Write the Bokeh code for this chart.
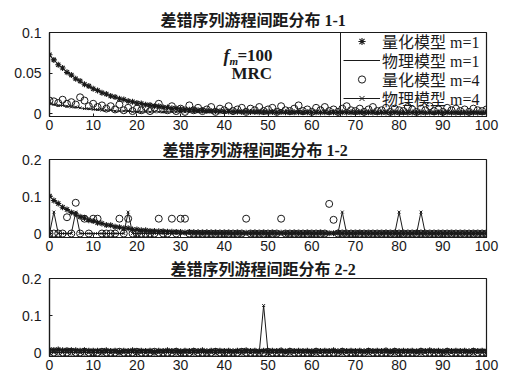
from bokeh.plotting import figure
from bokeh.layouts import column
from bokeh.models import (Legend, LegendItem, Label, FixedTicker, BoxAnnotation,
                          CustomJSTickFormatter, Range1d)
from bokeh.embed import file_html
from bokeh.resources import INLINE

# ---------------- data ----------------
run_len = list(range(101))            # run distance 0..100
x_ticks = [0, 10, 20, 30, 40, 50, 60, 70, 80, 90, 100]
titles = ["差错序列游程间距分布 1-1", "差错序列游程间距分布 1-2", "差错序列游程间距分布 2-2"]
legend_labels = ["量化模型 m=1", "物理模型 m=1", "量化模型 m=4", "物理模型 m=4"]
y_ticks_1 = [0, 0.05, 0.1]
y_ticks_23 = [0, 0.1, 0.2]

# subplot 1-1
quant_m1_a = [
    0.0725, 0.0662, 0.0601, 0.0562, 0.0508, 0.0474, 0.0428, 0.0401, 0.0361, 0.0338, 0.0305,
    0.0285, 0.0256, 0.0241, 0.0216, 0.0203, 0.0182, 0.0172, 0.0153, 0.0145, 0.0129,
    0.0123, 0.0109, 0.0104, 0.0091, 0.0088, 0.0077, 0.0074, 0.0064, 0.0063, 0.0055,
    0.0052, 0.0046, 0.0044, 0.0039, 0.0038, 0.0033, 0.0032, 0.0028, 0.0028, 0.0024,
    0.0025, 0.0021, 0.0023, 0.0019, 0.0021, 0.0018, 0.0020, 0.0017, 0.0019, 0.0016,
    0.0018, 0.0015, 0.0018, 0.0015, 0.0017, 0.0014, 0.0017, 0.0014, 0.0016, 0.0013,
    0.0016, 0.0013, 0.0015, 0.0013, 0.0015, 0.0012, 0.0015, 0.0012, 0.0014, 0.0012,
    0.0014, 0.0011, 0.0014, 0.0011, 0.0013, 0.0011, 0.0013, 0.0010, 0.0013, 0.0010,
    0.0012, 0.0010, 0.0012, 0.0010, 0.0012, 0.0009, 0.0011, 0.0009, 0.0011, 0.0009,
    0.0011, 0.0009, 0.0010, 0.0008, 0.0010, 0.0008, 0.0010, 0.0008, 0.0009, 0.0008]
phys_m1_a = [
    0.0720, 0.0661, 0.0607, 0.0558, 0.0512, 0.0471, 0.0432, 0.0397, 0.0365, 0.0335, 0.0308,
    0.0282, 0.0259, 0.0238, 0.0219, 0.0201, 0.0185, 0.0170, 0.0156, 0.0143, 0.0131,
    0.0121, 0.0111, 0.0102, 0.0093, 0.0086, 0.0079, 0.0072, 0.0066, 0.0061, 0.0056,
    0.0051, 0.0047, 0.0043, 0.0040, 0.0036, 0.0033, 0.0031, 0.0028, 0.0026, 0.0024,
    0.0022, 0.0020, 0.0019, 0.0018, 0.0017, 0.0016, 0.0015, 0.0015, 0.0014, 0.0014,
    0.0013, 0.0013, 0.0013, 0.0012, 0.0012, 0.0012, 0.0012, 0.0011, 0.0011, 0.0011,
    0.0011, 0.0011, 0.0010, 0.0010, 0.0010, 0.0010, 0.0010, 0.0010, 0.0010, 0.0009,
    0.0009, 0.0009, 0.0009, 0.0009, 0.0009, 0.0009, 0.0009, 0.0009, 0.0009, 0.0009,
    0.0009, 0.0009, 0.0009, 0.0009, 0.0008, 0.0008, 0.0008, 0.0008, 0.0008, 0.0008,
    0.0008, 0.0008, 0.0008, 0.0008, 0.0008, 0.0008, 0.0008, 0.0008, 0.0008, 0.0008]
quant_m4_a = [
    0.016, 0.015, 0.013, 0.017, 0.012, 0.014, 0.011, 0.020, 0.016, 0.009, 0.012,
    0.008, 0.010, 0.006, 0.009, 0.005, 0.011, 0.004, 0.007, 0.003, 0.006,
    0.004, 0.008, 0.003, 0.007, 0.012, 0.005, 0.004, 0.009, 0.003, 0.006,
    0.002, 0.010, 0.004, 0.007, 0.003, 0.005, 0.008, 0.002, 0.006, 0.004,
    0.009, 0.003, 0.005, 0.007, 0.002, 0.006, 0.004, 0.008, 0.003, 0.005,
    0.007, 0.002, 0.009, 0.004, 0.003, 0.006, 0.010, 0.003, 0.005, 0.002,
    0.007, 0.004, 0.008, 0.003, 0.005, 0.002, 0.006, 0.009, 0.004, 0.003,
    0.006, 0.002, 0.005, 0.008, 0.003, 0.004, 0.007, 0.002, 0.006, 0.004,
    0.003, 0.008, 0.005, 0.002, 0.006, 0.004, 0.009, 0.003, 0.005, 0.002,
    0.007, 0.004, 0.006, 0.003, 0.005, 0.002, 0.006, 0.004, 0.003, 0.005]
phys_m4_a = [
    0.012, 0.011, 0.010, 0.010, 0.009, 0.008, 0.008, 0.007, 0.006, 0.006, 0.005,
    0.005, 0.004, 0.004, 0.004, 0.003, 0.003, 0.003, 0.003, 0.002, 0.002,
    0.002, 0.002, 0.002, 0.002, 0.002, 0.002, 0.002, 0.002, 0.002, 0.002,
    0.002, 0.002, 0.002, 0.002, 0.002, 0.002, 0.002, 0.002, 0.002, 0.002,
    0.002, 0.002, 0.002, 0.002, 0.002, 0.002, 0.002, 0.002, 0.002, 0.002,
    0.0015, 0.0015, 0.0015, 0.0015, 0.0015, 0.0015, 0.0015, 0.0015, 0.0015, 0.0015,
    0.0015, 0.0015, 0.0015, 0.0015, 0.0015, 0.0015, 0.0015, 0.0015, 0.0015, 0.0015,
    0.001, 0.001, 0.001, 0.001, 0.001, 0.001, 0.001, 0.001, 0.001, 0.001,
    0.001, 0.001, 0.001, 0.001, 0.001, 0.001, 0.001, 0.001, 0.001, 0.001,
    0.001, 0.001, 0.001, 0.001, 0.001, 0.001, 0.001, 0.001, 0.001, 0.001]

# subplot 1-2
quant_m1_b = [
    0.101, 0.089, 0.081, 0.071, 0.065, 0.057, 0.053, 0.045, 0.042, 0.036, 0.034,
    0.029, 0.027, 0.023, 0.022, 0.018, 0.017, 0.014, 0.014, 0.011, 0.011,
    0.009, 0.009, 0.007, 0.007, 0.006, 0.006, 0.005, 0.005, 0.004, 0.004,
    0.003, 0.004, 0.003, 0.003, 0.002, 0.003, 0.002, 0.002, 0.002, 0.002,
    0.002, 0.001, 0.002, 0.001, 0.002, 0.001, 0.002, 0.001, 0.002, 0.001,
    0.002, 0.001, 0.002, 0.001, 0.001, 0.002, 0.001, 0.001, 0.002, 0.001,
    0.001, 0.002, 0.001, 0.001, 0.001, 0.002, 0.001, 0.001, 0.001, 0.001,
    0.002, 0.001, 0.001, 0.001, 0.001, 0.001, 0.002, 0.001, 0.001, 0.001,
    0.001, 0.001, 0.001, 0.002, 0.001, 0.001, 0.001, 0.001, 0.001, 0.001,
    0.001, 0.001, 0.001, 0.001, 0.001, 0.001, 0.001, 0.001, 0.001, 0.001]
phys_m1_b = [
    0.1000, 0.0896, 0.0803, 0.0719, 0.0644, 0.0577, 0.0517, 0.0463, 0.0415, 0.0372, 0.0333,
    0.0298, 0.0267, 0.0239, 0.0214, 0.0192, 0.0172, 0.0154, 0.0138, 0.0124, 0.0111,
    0.0099, 0.0089, 0.0080, 0.0071, 0.0064, 0.0057, 0.0051, 0.0046, 0.0041, 0.0037,
    0.0033, 0.0030, 0.0027, 0.0024, 0.0021, 0.0019, 0.0017, 0.0015, 0.0014, 0.0012,
    0.0011, 0.0010, 0.0010, 0.0009, 0.0009, 0.0008, 0.0008, 0.0008, 0.0007, 0.0007,
    0.0007, 0.0007, 0.0006, 0.0006, 0.0006, 0.0006, 0.0006, 0.0006, 0.0006, 0.0006,
    0.0005, 0.0005, 0.0005, 0.0005, 0.0005, 0.0005, 0.0005, 0.0005, 0.0005, 0.0005,
    0.0005, 0.0005, 0.0005, 0.0005, 0.0005, 0.0005, 0.0005, 0.0005, 0.0005, 0.0005,
    0.0005, 0.0005, 0.0005, 0.0005, 0.0005, 0.0005, 0.0005, 0.0005, 0.0005, 0.0005,
    0.0005, 0.0005, 0.0005, 0.0005, 0.0005, 0.0005, 0.0005, 0.0005, 0.0005, 0.0005]
quant_m4_b = [
    0, 0, 0, 0, 0.044, 0, 0.083, 0, 0.04, 0, 0.04,
    0.04, 0, 0, 0, 0, 0.04, 0, 0.04, 0, 0,
    0, 0, 0, 0, 0.04, 0, 0, 0.04, 0, 0.04,
    0.04, 0, 0, 0, 0, 0, 0, 0, 0, 0,
    0, 0, 0, 0, 0.04, 0, 0, 0, 0, 0,
    0, 0, 0.04, 0, 0, 0, 0, 0, 0, 0,
    0, 0, 0, 0.08, 0.037, 0, 0, 0, 0, 0,
    0, 0, 0, 0, 0, 0, 0, 0, 0, 0,
    0, 0, 0, 0, 0, 0, 0, 0, 0, 0,
    0, 0, 0, 0, 0, 0, 0, 0, 0, 0]
phys_m4_b = [
    0, 0.058, 0, 0, 0, 0, 0.058, 0, 0, 0, 0,
    0, 0, 0, 0, 0, 0, 0, 0.058, 0, 0,
    0, 0, 0, 0, 0, 0, 0, 0, 0, 0,
    0, 0, 0, 0, 0, 0, 0, 0, 0, 0,
    0, 0, 0, 0, 0, 0, 0, 0, 0, 0,
    0, 0, 0, 0, 0, 0, 0, 0, 0, 0,
    0, 0, 0, 0, 0, 0, 0.058, 0, 0, 0,
    0, 0, 0, 0, 0, 0, 0, 0, 0, 0.058,
    0, 0, 0, 0, 0.058, 0, 0, 0, 0, 0,
    0, 0, 0, 0, 0, 0, 0, 0, 0, 0]

# subplot 2-2
quant_m1_c = [
    0.008, 0.007, 0.008, 0.006, 0.007, 0.006, 0.006, 0.005, 0.006, 0.005, 0.005,
    0.005, 0.004, 0.006, 0.004, 0.005, 0.003, 0.005, 0.004, 0.006, 0.004,
    0.005, 0.004, 0.005, 0.003, 0.005, 0.004, 0.006, 0.004, 0.005, 0.003,
    0.005, 0.004, 0.005, 0.004, 0.006, 0.003, 0.005, 0.004, 0.005, 0.004,
    0.005, 0.003, 0.005, 0.004, 0.006, 0.004, 0.005, 0.003, 0.005, 0.004,
    0.005, 0.004, 0.006, 0.003, 0.005, 0.004, 0.005, 0.004, 0.005, 0.003,
    0.005, 0.004, 0.005, 0.004, 0.006, 0.003, 0.005, 0.004, 0.005, 0.004,
    0.005, 0.003, 0.005, 0.004, 0.005, 0.004, 0.006, 0.003, 0.005, 0.004,
    0.005, 0.004, 0.005, 0.003, 0.005, 0.004, 0.006, 0.004, 0.005, 0.003,
    0.005, 0.004, 0.005, 0.004, 0.005, 0.003, 0.005, 0.004, 0.005, 0.004]
phys_m1_c = [
    0.007, 0.007, 0.007, 0.006, 0.006, 0.006, 0.006, 0.005, 0.005, 0.005, 0.005,
    0.005, 0.005, 0.005, 0.005, 0.005, 0.005, 0.005, 0.005, 0.005, 0.005,
    0.0045, 0.0045, 0.0045, 0.0045, 0.0045, 0.0045, 0.0045, 0.0045, 0.0045, 0.0045,
    0.0045, 0.0045, 0.0045, 0.0045, 0.0045, 0.0045, 0.0045, 0.0045, 0.0045, 0.0045,
    0.0045, 0.0045, 0.0045, 0.0045, 0.0045, 0.0045, 0.0045, 0.0045, 0.0045, 0.0045,
    0.0045, 0.0045, 0.0045, 0.0045, 0.0045, 0.0045, 0.0045, 0.0045, 0.0045, 0.0045,
    0.0045, 0.0045, 0.0045, 0.0045, 0.0045, 0.0045, 0.0045, 0.0045, 0.0045, 0.0045,
    0.0045, 0.0045, 0.0045, 0.0045, 0.0045, 0.0045, 0.0045, 0.0045, 0.0045, 0.0045,
    0.0045, 0.0045, 0.0045, 0.0045, 0.0045, 0.0045, 0.0045, 0.0045, 0.0045, 0.0045,
    0.0045, 0.0045, 0.0045, 0.0045, 0.0045, 0.0045, 0.0045, 0.0045, 0.0045, 0.0045]
quant_m4_c = [
    0.002, 0, 0.002, 0, 0, 0.002, 0, 0, 0.002, 0, 0,
    0, 0.002, 0, 0, 0, 0.002, 0, 0, 0, 0.002,
    0, 0, 0, 0.002, 0, 0, 0, 0, 0.002, 0,
    0, 0, 0.002, 0, 0, 0, 0, 0.002, 0, 0,
    0, 0, 0, 0.002, 0, 0, 0, 0, 0, 0.002,
    0, 0, 0, 0, 0.002, 0, 0, 0, 0, 0,
    0.002, 0, 0, 0, 0, 0, 0.002, 0, 0, 0,
    0, 0, 0.002, 0, 0, 0, 0, 0, 0.002, 0,
    0, 0, 0, 0, 0.002, 0, 0, 0, 0, 0,
    0.002, 0, 0, 0, 0, 0, 0.002, 0, 0, 0]
phys_m4_c = [
    0, 0, 0, 0, 0, 0, 0, 0, 0, 0, 0,
    0, 0, 0, 0, 0, 0, 0, 0, 0, 0,
    0, 0, 0, 0, 0, 0, 0, 0, 0, 0,
    0, 0, 0, 0, 0, 0, 0, 0, 0, 0,
    0, 0, 0, 0, 0, 0, 0, 0, 0.127, 0,
    0, 0, 0, 0, 0, 0, 0, 0, 0, 0,
    0, 0, 0, 0, 0, 0, 0, 0, 0, 0,
    0, 0, 0, 0, 0, 0, 0, 0, 0, 0,
    0, 0, 0, 0, 0, 0, 0, 0, 0, 0,
    0, 0, 0, 0, 0, 0, 0, 0, 0, 0]

# ---------------- styling ----------------
INK = "#1a1a1a"
TICK_FONT = "Liberation Sans"
CJK_FONT = "'Liberation Serif', 'Noto Sans CJK SC'"
fmt = CustomJSTickFormatter(code="return String(Math.round(tick*1000)/1000);")
FRAME_W = 437
FRAME_H1 = 84


def make_panel(title, title_left, title_gap, ymin, ymax, yticks,
               top, frame_h, bottom, series):
    p = figure(width=49 + FRAME_W + 15, height=top + frame_h + bottom,
               output_backend="svg", toolbar_location=None,
               x_range=Range1d(0, 100), y_range=Range1d(ymin, ymax),
               min_border_left=49, min_border_right=15,
               min_border_top=top, min_border_bottom=bottom)
    p.title.text = title
    p.title.text_font = CJK_FONT
    p.title.text_font_style = "bold"
    p.title.text_font_size = "16px"
    p.title.text_color = INK
    p.title.align = "left"
    p.title.offset = title_left
    p.title.standoff = title_gap
    p.xgrid.visible = False
    p.ygrid.visible = False
    p.outline_line_color = INK
    p.outline_line_width = 1.2
    p.background_fill_color = "white"
    p.border_fill_color = "white"
    p.xaxis.ticker = FixedTicker(ticks=x_ticks)
    p.yaxis.ticker = FixedTicker(ticks=yticks)
    p.yaxis.formatter = fmt
    for ax in (p.xaxis, p.yaxis):
        ax.axis_line_color = INK
        ax.axis_line_width = 1.2
        ax.major_tick_in = 3
        ax.major_tick_out = 0
        ax.major_tick_line_color = INK
        ax.minor_tick_line_color = None
        ax.major_label_text_font = TICK_FONT
        ax.major_label_text_font_size = "14px"
        ax.major_label_text_color = INK
    p.xaxis.major_label_standoff = 3
    p.yaxis.major_label_standoff = 8

    q1, l1, q4, l4 = series
    r_q1 = p.scatter(run_len[:len(q1)], q1, marker="asterisk", size=6,
                     line_color=INK, line_width=1.1)
    r_l1 = p.line(run_len[:len(l1)], l1, line_color=INK, line_width=1)
    r_q4 = p.scatter(run_len[:len(q4)], q4, marker="circle", size=7,
                     fill_color=None, line_color=INK, line_width=1)
    r_l4 = p.line(run_len[:len(l4)], l4, line_color=INK, line_width=1)
    r_l4m = p.scatter(run_len[:len(l4)], l4, marker="x", size=4,
                      line_color=INK, line_width=1)
    return p, [[r_q1], [r_l1], [r_q4], [r_l4, r_l4m]]


p1, rs1 = make_panel(titles[0], 111, 7, -0.0037, 0.1, y_ticks_1, 32, FRAME_H1, 21,
                     (quant_m1_a, phys_m1_a, quant_m4_a, phys_m4_a))
p2, _ = make_panel(titles[1], 113, 2, -0.0108, 0.2, y_ticks_23, 22, 78, 20,
                   (quant_m1_b, phys_m1_b, quant_m4_b, phys_m4_b))
p3, _ = make_panel(titles[2], 121, 1, -0.0108, 0.2, y_ticks_23, 21, 78, 18,
                   (quant_m1_c, phys_m1_c, quant_m4_c, phys_m4_c))

# legend: one row per entry, placed at fixed screen offsets inside the frame
LEG_LEFT = 291          # px from frame left (box edge)
ROW_CENTERS = [9, 28, 47, 66]   # px below frame top
ROW_H = 23
p1.add_layout(BoxAnnotation(left=LEG_LEFT, right=FRAME_W, bottom=0, top=FRAME_H1,
                            left_units="screen", right_units="screen",
                            bottom_units="screen", top_units="screen",
                            fill_color=None, fill_alpha=0,
                            line_color=INK, line_width=1, line_alpha=1))
for lab, rends, yc in zip(legend_labels, rs1, ROW_CENTERS):
    lg = Legend(items=[LegendItem(label=lab, renderers=rends)],
                location=(LEG_LEFT + 3, FRAME_H1 - yc - ROW_H / 2),
                margin=0, padding=0, spacing=0,
                glyph_width=37, glyph_height=18, label_height=18,
                label_standoff=2, label_text_font=CJK_FONT,
                label_text_font_size="16px", label_text_color=INK,
                border_line_color=None, background_fill_alpha=0)
    p1.add_layout(lg)

# annotation text "f_m=100" and "MRC"
ann_x, ann_y = 39.8, 0.071
p1.add_layout(Label(x=ann_x, y=ann_y, text="f", text_font="Liberation Serif",
                    text_font_style="bold italic", text_font_size="18px",
                    text_baseline="middle", text_color=INK))
p1.add_layout(Label(x=ann_x, y=ann_y, x_offset=6, y_offset=-5, text="m",
                    text_font="Liberation Serif", text_font_style="bold italic",
                    text_font_size="11px", text_baseline="middle", text_color=INK))
p1.add_layout(Label(x=ann_x, y=ann_y, x_offset=14, text="=100",
                    text_font="Liberation Serif", text_font_style="bold",
                    text_font_size="17px", text_baseline="middle", text_color=INK))
p1.add_layout(Label(x=46.3, y=0.050, text="MRC", text_align="center",
                    text_font="Liberation Serif", text_font_style="bold",
                    text_font_size="17px", text_baseline="middle", text_color=INK))

layout = column(p1, p2, p3, spacing=0)
open("out.html", "w").write(file_html(layout, INLINE))
